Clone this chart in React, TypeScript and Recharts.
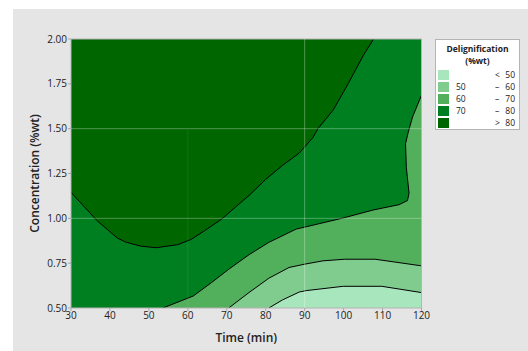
import { ComposedChart, Area, XAxis, YAxis, CartesianGrid, ReferenceLine, ReferenceArea, Legend } from 'recharts';

// axis ticks
const timeTicks = [30, 40, 50, 60, 70, 80, 90, 100, 110, 120];
const concTicks = [0.5, 0.75, 1.0, 1.25, 1.5, 1.75, 2.0];

// contour boundaries (time in min, concentration in %wt)
const above80 = [
  { t: 30, c: 1.145 }, { t: 36.7, c: 0.987 }, { t: 41.9, c: 0.89 }, { t: 44, c: 0.868 },
  { t: 47.9, c: 0.845 }, { t: 51.8, c: 0.836 }, { t: 57.4, c: 0.853 }, { t: 60.8, c: 0.882 },
  { t: 64.3, c: 0.931 }, { t: 68.7, c: 0.996 }, { t: 72.2, c: 1.062 }, { t: 75.7, c: 1.127 },
  { t: 79.9, c: 1.215 }, { t: 84.3, c: 1.295 }, { t: 88.6, c: 1.364 }, { t: 92.1, c: 1.45 },
  { t: 93.4, c: 1.5 }, { t: 97.3, c: 1.603 }, { t: 101.2, c: 1.752 }, { t: 105.1, c: 1.91 },
  { t: 107.7, c: 2.0 },
];

const below70 = [
  { t: 53.6, c: 0.5 }, { t: 61.4, c: 0.567 }, { t: 66.1, c: 0.642 }, { t: 70.5, c: 0.716 },
  { t: 75.7, c: 0.797 }, { t: 80.8, c: 0.866 }, { t: 87.8, c: 0.94 }, { t: 90.4, c: 0.953 },
  { t: 99.9, c: 1.002 }, { t: 107.7, c: 1.047 }, { t: 114.2, c: 1.076 }, { t: 116.4, c: 1.099 },
  { t: 116.8, c: 1.14 }, { t: 116.1, c: 1.285 }, { t: 115.9, c: 1.416 }, { t: 116.6, c: 1.481 },
  { t: 117.7, c: 1.565 }, { t: 120, c: 1.687 },
];

const below60 = [
  { t: 70.5, c: 0.5 }, { t: 75.7, c: 0.586 }, { t: 80.8, c: 0.666 }, { t: 86, c: 0.726 },
  { t: 89.9, c: 0.744 }, { t: 94.7, c: 0.763 }, { t: 100.3, c: 0.772 }, { t: 108.1, c: 0.772 },
  { t: 120, c: 0.735 },
];

const below50 = [
  { t: 80.8, c: 0.5 }, { t: 84.3, c: 0.545 }, { t: 88.6, c: 0.589 }, { t: 90.4, c: 0.597 },
  { t: 99.9, c: 0.621 }, { t: 109.8, c: 0.621 }, { t: 120, c: 0.586 },
];

// legend rows, lightest to darkest
const legendFrom = ['', '50', '60', '70', ''];
const legendSign = ['<', '–', '–', '–', '>'];
const legendTo = ['50', '60', '70', '80', '80'];
const levelColors = ['#a8e6bd', '#80cc8e', '#52af5b', '#007f20', '#006600'];

const font = '"Open Sans", "Noto Sans", sans-serif';

function ContourLegend() {
  return (
    <div style={{ width: 85, height: 91, boxSizing: 'border-box', background: '#fff', border: '1px solid #b4b4b4', fontFamily: font, color: '#222', position: 'relative' }}>
      <div style={{ position: 'absolute', left: 0, right: 0, top: 3, textAlign: 'center', fontSize: 8.5, fontWeight: 700, lineHeight: '12px' }}>
        Delignification
        <br />
        (%wt)
      </div>
      {legendTo.map((to, i) => (
        <div key={i} style={{ position: 'absolute', left: 2, right: 4, top: 29 + i * 12, height: 12, fontSize: 8.5, lineHeight: '12px' }}>
          <div style={{ position: 'absolute', left: 0, top: 1, width: 11, height: 10, background: levelColors[i] }} />
          <span style={{ position: 'absolute', left: 18 }}>{legendFrom[i]}</span>
          <span style={{ position: 'absolute', left: 57 }}>{legendSign[i]}</span>
          <span style={{ position: 'absolute', right: 0 }}>{to}</span>
        </div>
      ))}
    </div>
  );
}

export default function App() {
  const tickStyle = { fontSize: 10, fill: '#222', fontFamily: font };
  return (
    <div style={{ position: 'fixed', left: 0, top: 0, width: 528, height: 351, background: '#fff' }}>
      <div style={{ position: 'absolute', left: 13, top: 9, right: 0, bottom: 0, background: '#e5e5e5' }} />
      <div style={{ position: 'absolute', left: 0, top: 0 }}>
        <ComposedChart width={528} height={351} margin={{ top: 39, right: 106.5, bottom: 0, left: 13 }}>
          <CartesianGrid horizontal={false} vertical={false} fill={levelColors[3]} fillOpacity={1} />
          <XAxis
            type="number"
            dataKey="t"
            domain={[30, 120]}
            ticks={timeTicks}
            allowDataOverflow
            height={43}
            tick={tickStyle}
            tickSize={3}
            tickMargin={1}
            tickLine={{ stroke: '#a8a8a8' }}
            axisLine={false}
            label={{ value: 'Time (min)', position: 'insideBottom', offset: 9, style: { fontSize: 12, fontWeight: 600, fill: '#222', fontFamily: font } }}
          />
          <YAxis
            type="number"
            dataKey="c"
            domain={[0.5, 2]}
            ticks={concTicks}
            allowDataOverflow
            width={58}
            tick={tickStyle}
            tickSize={3}
            tickMargin={1}
            tickLine={{ stroke: '#a8a8a8' }}
            axisLine={false}
            tickFormatter={(v: number) => v.toFixed(2)}
            label={{ value: 'Concentration (%wt)', angle: -90, position: 'insideLeft', offset: 22, style: { textAnchor: 'middle', fontSize: 12, fontWeight: 600, fill: '#222', fontFamily: font } }}
          />
          <Area data={above80} dataKey="c" type="linear" baseValue={2} fill={levelColors[4]} fillOpacity={1} stroke="#000" strokeWidth={1} dot={false} activeDot={false} isAnimationActive={false} />
          <Area data={below70} dataKey="c" type="linear" baseValue={0.5} fill={levelColors[2]} fillOpacity={1} stroke="#000" strokeWidth={1} dot={false} activeDot={false} isAnimationActive={false} />
          <Area data={below60} dataKey="c" type="linear" baseValue={0.5} fill={levelColors[1]} fillOpacity={1} stroke="#000" strokeWidth={1} dot={false} activeDot={false} isAnimationActive={false} />
          <Area data={below50} dataKey="c" type="linear" baseValue={0.5} fill={levelColors[0]} fillOpacity={1} stroke="#000" strokeWidth={1} dot={false} activeDot={false} isAnimationActive={false} />
          <ReferenceLine x={90} stroke="#fff" strokeOpacity={0.3} />
          <ReferenceLine y={1} stroke="#fff" strokeOpacity={0.3} />
          <ReferenceLine y={1.5} stroke="#fff" strokeOpacity={0.3} />
          <ReferenceLine segment={[{ x: 60, y: 0.5 }, { x: 60, y: 1.5 }]} stroke="#fff" strokeOpacity={0.08} />
          <ReferenceArea x1={30} x2={120} y1={0.5} y2={2} fill="none" stroke="#b4b4b4" strokeWidth={1} />
          <Legend
            layout="vertical"
            align="center"
            verticalAlign="middle"
            content={() => <ContourLegend />}
            wrapperStyle={{ left: 435, top: 39, width: 85, height: 91 }}
          />
        </ComposedChart>
      </div>
    </div>
  );
}
